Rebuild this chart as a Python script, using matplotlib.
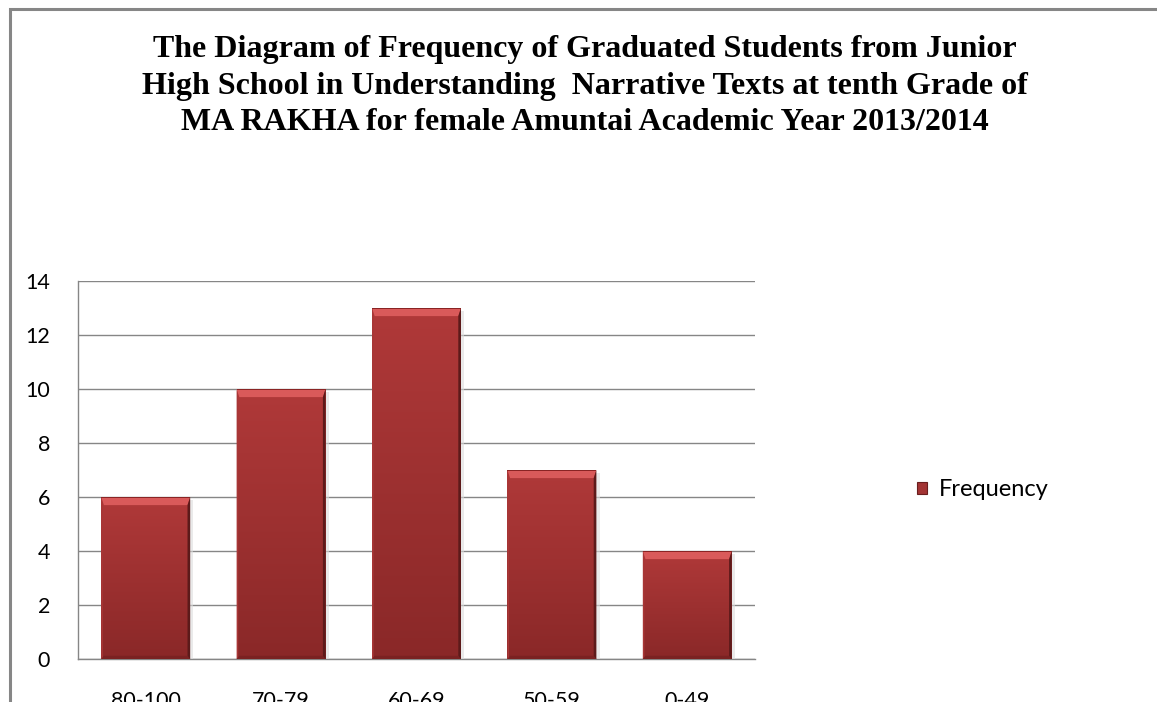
import matplotlib
matplotlib.use("Agg")
import matplotlib.pyplot as plt
import numpy as np
from matplotlib.patches import Rectangle
from matplotlib.colors import LinearSegmentedColormap

categories = ["80-100", "70-79", "60-69", "50-59", "0-49"]
frequency = [6, 10, 13, 7, 4]
yticks = [0, 2, 4, 6, 8, 10, 12, 14]
series_name = "Frequency"
title = ("The Diagram of Frequency of Graduated Students from Junior\n"
         "High School in Understanding  Narrative Texts at tenth Grade of\n"
         "MA RAKHA for female Amuntai Academic Year 2013/2014")

W, H = 1157, 702
fig = plt.figure(figsize=(W / 100, H / 100), dpi=100)
fig.patch.set_facecolor("white")

# outer chart frame
fig.patches.append(Rectangle((9.5 / W, -0.1), 2.0, (H - 8.5) / H + 0.1,
                             transform=fig.transFigure, fill=False,
                             edgecolor="#868686", linewidth=2.2, zorder=0))

fig.text(585 / W, (H - 35) / H, title, ha="center", va="top",
         family="Liberation Serif", fontweight="bold", fontsize=23,
         linespacing=1.35)

ax = fig.add_axes([78 / W, (H - 659) / H, (755 - 78) / W, (659 - 281) / H])
x = np.arange(len(categories))
bars = ax.bar(x, frequency, width=0.657, color="#9c2f2f", edgecolor="none",
              zorder=3, label=series_name)
ax.set_xlim(-0.5, len(categories) - 0.5)
ax.set_ylim(0, 14)
ax.set_yticks(yticks)
ax.set_xticks(x)
ax.set_xticklabels(categories)
ax.grid(axis="y", color="#868686", linewidth=1.0, zorder=0)
for s in ["top", "right"]:
    ax.spines[s].set_visible(False)
for s in ["left", "bottom"]:
    ax.spines[s].set_color("#868686")
    ax.spines[s].set_linewidth(1.0)
ax.tick_params(length=0, labelsize=15.5, pad=20)
ax.tick_params(axis="x", pad=23)
for lab in ax.get_xticklabels() + ax.get_yticklabels():
    lab.set_family("Lato")

# bar shading: vertical gradient plus bevel
cmap = LinearSegmentedColormap.from_list("g", ["#8a2828", "#b03939"])
grad = np.linspace(0, 1, 256).reshape(-1, 1)
for b in bars:
    x0, w, h = b.get_x(), b.get_width(), b.get_height()
    im = ax.imshow(grad, extent=[x0, x0 + w, 0, h], origin="lower",
                   cmap=cmap, aspect="auto", zorder=3.1)
    im.set_clip_path(b)
    dy = 0.3
    dx = w * 0.03
    # shadow
    ax.add_patch(Rectangle((x0 + w, 0), dx * 1.2, h - 0.1, color="#dcdcdc",
                           alpha=0.6, zorder=2.9, linewidth=0))
    # top highlight
    ax.fill([x0, x0 + w, x0 + w - dx, x0 + dx], [h, h, h - dy, h - dy],
            color="#d95a5a", zorder=3.3, linewidth=0)
    ax.fill([x0, x0 + w, x0 + w, x0], [h, h, h - 0.05, h - 0.05],
            color="#8a2424", zorder=3.4, linewidth=0)
    # right dark edge
    ax.fill([x0 + w, x0 + w, x0 + w - dx, x0 + w - dx], [0, h, h - dy, 0],
            color="#5c1a1a", zorder=3.3, linewidth=0)
    # left edge
    ax.fill([x0, x0, x0 + dx * 0.6, x0 + dx * 0.6], [0, h, h - dy, 0],
            color="#a83636", zorder=3.3, linewidth=0)
    # bottom edge
    ax.fill([x0, x0 + w, x0 + w - dx, x0 + dx], [0, 0, 0.12, 0.12],
            color="#7a2222", zorder=3.3, linewidth=0)

leg = fig.legend(handles=[Rectangle((0, 0), 1, 1, facecolor="#a33434",
                                    edgecolor="#6a1e1e", linewidth=0.8)],
                 labels=[series_name], loc="center left",
                 bbox_to_anchor=(896 / W, (H - 490) / H), frameon=False,
                 handlelength=0.42, handleheight=0.42, handletextpad=0.5,
                 prop={"family": "Lato", "size": 17})

fig.savefig("out.png", dpi=100)
